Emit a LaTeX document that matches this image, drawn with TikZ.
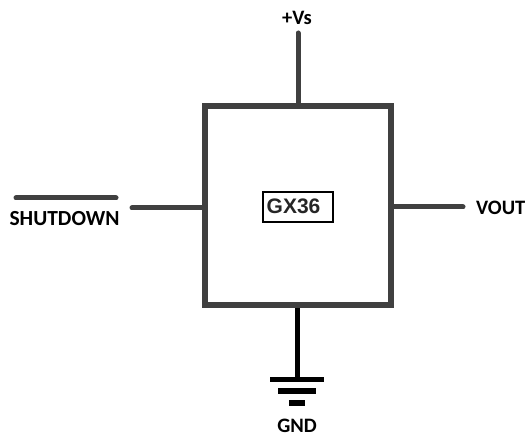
\documentclass[tikz,border=0pt]{standalone}
\usepackage{fontspec}
\setmainfont{Carlito}
\newfontfamily\arialfont{Liberation Sans}
\definecolor{wire}{HTML}{404040}
\definecolor{nametext}{HTML}{262626}
\tikzset{
  x=1bp,y=-1bp,
  wirestyle/.style={draw=wire,line width=5bp,line cap=round},
  gndbar/.style={draw=black,line width=5.5bp},
  pinlabel/.style={inner sep=0pt,font=\fontsize{20.5bp}{22bp}\selectfont\bfseries,text=black},
  chip/.style={draw=wire,line width=5.5bp,minimum width=186bp,minimum height=199bp,inner sep=0pt},
  namebox/.style={draw=black,line width=1.5bp,minimum width=70bp,minimum height=30bp,inner sep=0pt}
}
\begin{document}
\begin{tikzpicture}
\useasboundingbox (0,0) rectangle (525,436);
\node[chip] (ic) at (298,205.5) {};
\node[namebox] (nm) at (298,207) {};
\node[anchor=west,inner sep=0pt,font=\arialfont\fontsize{21bp}{22bp}\selectfont\bfseries,text=nametext] (nmt) at (266.5,206) {GX36};
\node[pinlabel] (vs) at (297,18) {+Vs};
\node[pinlabel,font=\fontsize{21.5bp}{22bp}\selectfont\bfseries] (sd) at (64.5,218.5) {SHUTDOWN};
\node[pinlabel,anchor=west] (vo) at (476,208) {VOUT};
\node[pinlabel] (gn) at (297,425.5) {GND};
\coordinate (vsend) at (298,33);
\coordinate (sdend) at (132,208);
\coordinate (voend) at (463,207);
\coordinate (barl) at (16,198);
\coordinate (barr) at (116,198);
\coordinate (g0) at (297,379.5);
\draw[wirestyle] (ic.north) -- (vsend);
\draw[wirestyle] (sdend) -- (sdend -| ic.west);
\draw[wirestyle] (voend -| ic.east) -- (voend);
\draw[wirestyle] (barl) -- (barr);
\draw[draw=black,line width=5bp] (ic.south -| g0) -- (g0);
\draw[gndbar] ([shift={(-27,0)}]g0) -- ([shift={(26.5,0)}]g0);
\draw[gndbar] ([shift={(-19,11.5)}]g0) -- ([shift={(19,11.5)}]g0);
\draw[gndbar] ([shift={(-8,23.5)}]g0) -- ([shift={(7.5,23.5)}]g0);
\end{tikzpicture}
\end{document}
